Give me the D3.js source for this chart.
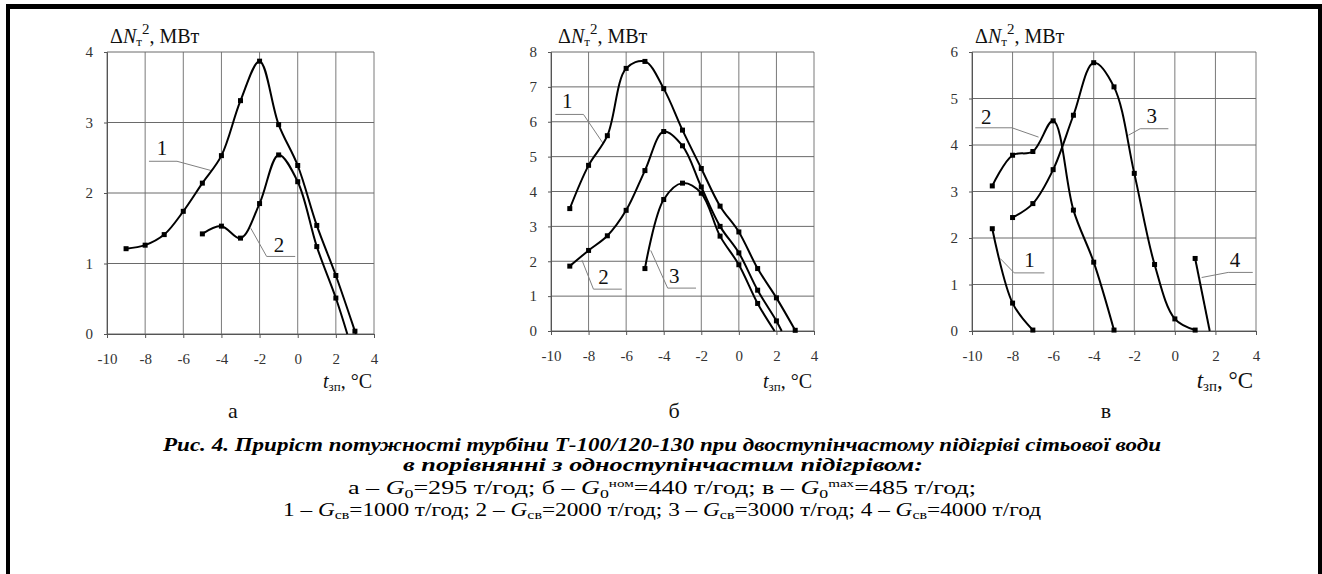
<!DOCTYPE html>
<html>
<head>
<meta charset="utf-8">
<script src="https://cdn.jsdelivr.net/npm/d3@7"></script>
<style>
  body { margin: 0; background: #fff; }
  svg text { font-family: "Liberation Serif", "Times New Roman", Tinos, "DejaVu Serif", "Noto Serif", serif; }
</style>
</head>
<body>
<svg id="chart" width="1322" height="574"></svg>
<script>
// ---- data ----
const xTicks = [-10, -8, -6, -4, -2, 0, 2, 4];
const yTicksA = [0, 1, 2, 3, 4];
const yTicksB = [0, 1, 2, 3, 4, 5, 6, 7, 8];
const yTicksC = [0, 1, 2, 3, 4, 5, 6];

// panel а (G0 = 295 т/год)
const a1 = [[-9, 1.21], [-8, 1.26], [-7, 1.41], [-6, 1.74], [-5, 2.14], [-4, 2.53], [-3, 3.31], [-2, 3.87], [-1, 2.97], [0, 2.39], [1, 1.54], [2, 0.83], [3, 0.04]];
const a1Tail = [3.05, 0];
const a2 = [[-5, 1.42], [-4, 1.53], [-3, 1.36], [-2, 1.85], [-1, 2.54], [0, 2.16], [1, 1.24], [2, 0.51]];
const a2Tail = [2.6, 0];

// panel б (G0ном = 440 т/год)
const b1 = [[-9, 3.51], [-8, 4.75], [-7, 5.6], [-6, 7.53], [-5, 7.73], [-4, 6.95], [-3, 5.76], [-2, 4.66], [-1, 3.58], [0, 2.84], [1, 1.79], [2, 0.95], [3, 0.02]];
const b2 = [[-9, 1.86], [-8, 2.31], [-7, 2.73], [-6, 3.46], [-5, 4.6], [-4, 5.72], [-3, 5.31], [-2, 4.13], [-1, 3.0], [0, 2.24], [1, 1.17], [2, 0.29]];
const b2Tail = [2.28, 0];
const b3 = [[-5, 1.79], [-4, 3.77], [-3, 4.24], [-2, 3.95], [-1, 2.72], [0, 1.9], [1, 0.79]];
const b3Tail = [1.9, 0];

// panel в (G0max = 485 т/год)
const c1 = [[-9, 2.2], [-8, 0.6], [-7, 0.02]];
const c2 = [[-9, 3.12], [-8, 3.78], [-7, 3.86], [-6, 4.52], [-5, 2.6], [-4, 1.48], [-3, 0.02]];
const c3 = [[-8, 2.44], [-7, 2.74], [-6, 3.47], [-5, 4.64], [-4, 5.77], [-3, 5.25], [-2, 3.39], [-1, 1.43], [0, 0.26], [1, 0.02]];
const c4 = [[1, 1.56]];
const c4Tail = [1.72, 0];

// leader lines for curve numbers: polyline points + label position (data units)
const leadersA = [
  {label: "1", pts: [[-7.8, 2.45], [-6.33, 2.45], [-4.56, 2.32]], at: [-7.12, 2.54]},
  {label: "2", pts: [[-2.46, 1.5], [-1.63, 1.1], [-0.13, 1.1]], at: [-0.98, 1.17]}
];
const leadersB = [
  {label: "1", pts: [[-9.77, 6.21], [-8.27, 6.21], [-7.24, 5.39]], at: [-9.13, 6.39]},
  {label: "2", pts: [[-8.35, 2.03], [-7.74, 1.2], [-6.23, 1.2]], at: [-7.21, 1.36]},
  {label: "3", pts: [[-4.69, 2.31], [-3.79, 1.23], [-2.28, 1.23]], at: [-3.44, 1.37]}
];
const leadersC = [
  {label: "2", pts: [[-9.84, 4.37], [-8.03, 4.37], [-6.72, 4.17]], at: [-9.3, 4.46]},
  {label: "3", pts: [[-2.29, 4.21], [-1.71, 4.35], [-0.32, 4.35]], at: [-1.14, 4.47]},
  {label: "1", pts: [[-8.61, 1.56], [-7.92, 1.25], [-6.43, 1.25]], at: [-7.16, 1.38]},
  {label: "4", pts: [[1.32, 1.15], [2.63, 1.26], [3.84, 1.26]], at: [2.96, 1.38]}
];

const panels = [
  {letter: "а", left: 107, right: 374, top: 52, bottom: 334, yMax: 4, yTicks: yTicksA,
   series: [{pts: a1, tail: a1Tail}, {pts: a2, tail: a2Tail}], leaders: leadersA,
   titleX: 110, xTitleEnd: 372, xTitleSize: 20, letterX: 233},
  {letter: "б", left: 551, right: 814, top: 52, bottom: 331, yMax: 8, yTicks: yTicksB,
   series: [{pts: b1}, {pts: b2, tail: b2Tail}, {pts: b3, tail: b3Tail}], leaders: leadersB,
   titleX: 558, xTitleEnd: 812, xTitleSize: 20, letterX: 674},
  {letter: "в", left: 972, right: 1256, top: 52, bottom: 331, yMax: 6, yTicks: yTicksC,
   series: [{pts: c1}, {pts: c2}, {pts: c3}, {pts: c4, tail: c4Tail}], leaders: leadersC,
   titleX: 975, xTitleEnd: 1253, xTitleSize: 23, letterX: 1106}
];

const svg = d3.select("#chart");

// outer frame (no bottom edge visible in the original)
svg.append("rect").attr("x", 6).attr("y", 4).attr("width", 4).attr("height", 570).attr("fill", "#000");
svg.append("rect").attr("x", 1318).attr("y", 4).attr("width", 4).attr("height", 570).attr("fill", "#000");
svg.append("rect").attr("x", 6).attr("y", 4).attr("width", 1316).attr("height", 5).attr("fill", "#000");

panels.forEach(function(p) {
  const x = d3.scaleLinear().domain([-10, 4]).range([p.left, p.right]);
  const y = d3.scaleLinear().domain([0, p.yMax]).range([p.bottom, p.top]);
  const g = svg.append("g");

  // grid
  g.selectAll(".vgrid").data(xTicks).enter().append("line")
      .attr("x1", d => x(d)).attr("x2", d => x(d))
      .attr("y1", y(0)).attr("y2", y(p.yMax))
      .attr("stroke", "#7a7a7a").attr("stroke-width", 1);
  g.selectAll(".hgrid").data(p.yTicks).enter().append("line")
      .attr("x1", x(-10)).attr("x2", x(4))
      .attr("y1", d => y(d)).attr("y2", d => y(d))
      .attr("stroke", "#6a6a6a").attr("stroke-width", 1);

  // axes
  g.append("g").attr("transform", "translate(0," + y(0) + ")")
      .call(d3.axisBottom(x).tickValues(xTicks).tickSize(4).tickPadding(15).tickFormat(d => d))
      .attr("font-family", null)
      .call(ax => ax.select(".domain").attr("stroke", "#555"))
      .call(ax => ax.selectAll(".tick line").attr("stroke", "#555"))
      .call(ax => ax.selectAll("text").attr("font-size", 15).attr("fill", "#333"));
  g.append("g").attr("transform", "translate(" + x(-10) + ",0)")
      .call(d3.axisLeft(y).tickValues(p.yTicks).tickSize(3).tickPadding(11).tickFormat(d => d))
      .attr("font-family", null)
      .call(ax => ax.select(".domain").attr("stroke", "#555"))
      .call(ax => ax.selectAll(".tick line").attr("stroke", "#555"))
      .call(ax => ax.selectAll("text").attr("font-size", 15).attr("fill", "#333"));

  // y title: ΔNт², МВт
  const yt = g.append("text").attr("x", p.titleX).attr("y", 43)
      .attr("font-size", 20).attr("fill", "#111");
  yt.append("tspan").text("Δ");
  yt.append("tspan").attr("font-style", "italic").text("N");
  yt.append("tspan").attr("font-size", 13).attr("dy", 3).text("т");
  yt.append("tspan").attr("font-size", 15).attr("dy", -12).text("2");
  yt.append("tspan").attr("dy", 9).text(", МВт");

  // x title: tзп, °C
  const xt = g.append("text").attr("x", p.xTitleEnd).attr("y", 388)
      .attr("text-anchor", "end").attr("font-size", p.xTitleSize).attr("fill", "#111");
  xt.append("tspan").attr("font-style", "italic").text("t");
  xt.append("tspan").attr("font-size", p.xTitleSize * 0.65).attr("dy", 3).text("зп");
  xt.append("tspan").attr("dy", -3).text(", °C");

  // panel letter
  g.append("text").attr("x", p.letterX).attr("y", 418).attr("text-anchor", "middle")
      .attr("font-size", 22).attr("fill", "#111").text(p.letter);

  // leaders
  const lead = d3.line().x(d => x(d[0])).y(d => y(d[1]));
  p.leaders.forEach(function(l) {
    g.append("path").attr("d", lead(l.pts)).attr("fill", "none")
        .attr("stroke", "#808080").attr("stroke-width", 1);
    g.append("text").attr("x", x(l.at[0])).attr("y", y(l.at[1]))
        .attr("text-anchor", "middle").attr("font-size", 21).attr("fill", "#111").text(l.label);
  });

  // curves + markers
  const curve = d3.line().x(d => x(d[0])).y(d => y(d[1])).curve(d3.curveCatmullRom.alpha(0.5));
  p.series.forEach(function(s) {
    const all = s.tail ? s.pts.concat([s.tail]) : s.pts;
    if (all.length > 1) {
      g.append("path").attr("d", curve(all)).attr("fill", "none")
          .attr("stroke", "#000").attr("stroke-width", 2);
    }
    g.selectAll(null).data(s.pts).enter().append("rect")
        .attr("x", d => x(d[0]) - 2.5).attr("y", d => y(d[1]) - 2.5)
        .attr("width", 5).attr("height", 5).attr("fill", "#000");
  });
});

// caption
const cap = svg.append("g").attr("fill", "#000").attr("text-anchor", "middle");
cap.append("text").attr("x", 662).attr("y", 451).attr("font-size", 19)
    .attr("font-weight", "bold").attr("font-style", "italic")
    .attr("textLength", 998).attr("lengthAdjust", "spacingAndGlyphs")
    .text("Рис. 4. Приріст потужності турбіни Т-100/120-130 при двоступінчастому підігріві сітьової води");
cap.append("text").attr("x", 663).attr("y", 471).attr("font-size", 19)
    .attr("font-weight", "bold").attr("font-style", "italic")
    .attr("textLength", 520).attr("lengthAdjust", "spacingAndGlyphs")
    .text("в порівнянні з одноступінчастим підігрівом:");

const l3 = cap.append("text").attr("x", 662).attr("y", 494).attr("font-size", 19)
    .attr("textLength", 628).attr("lengthAdjust", "spacingAndGlyphs");
l3.append("tspan").text("а – ");
l3.append("tspan").attr("font-style", "italic").text("G");
l3.append("tspan").attr("font-size", 13).attr("dy", 4).text("0");
l3.append("tspan").attr("dy", -4).text("=295 т/год; б – ");
l3.append("tspan").attr("font-style", "italic").text("G");
l3.append("tspan").attr("font-size", 13).attr("dy", 4).text("0");
l3.append("tspan").attr("font-size", 11).attr("dy", -11).text("ном");
l3.append("tspan").attr("dy", 7).text("=440 т/год; в – ");
l3.append("tspan").attr("font-style", "italic").text("G");
l3.append("tspan").attr("font-size", 13).attr("dy", 4).text("0");
l3.append("tspan").attr("font-size", 11).attr("dy", -11).text("max");
l3.append("tspan").attr("dy", 7).text("=485 т/год;");

const l4 = cap.append("text").attr("x", 662).attr("y", 516).attr("font-size", 19)
    .attr("textLength", 758).attr("lengthAdjust", "spacingAndGlyphs");
[["1", "1000"], ["2", "2000"], ["3", "3000"], ["4", "4000"]].forEach(function(d, i) {
  l4.append("tspan").text((i ? "; " : "") + d[0] + " – ");
  l4.append("tspan").attr("font-style", "italic").text("G");
  l4.append("tspan").attr("font-size", 13).attr("dy", 3).text("св");
  l4.append("tspan").attr("dy", -3).text("=" + d[1] + " т/год");
});
</script>
</body>
</html>
